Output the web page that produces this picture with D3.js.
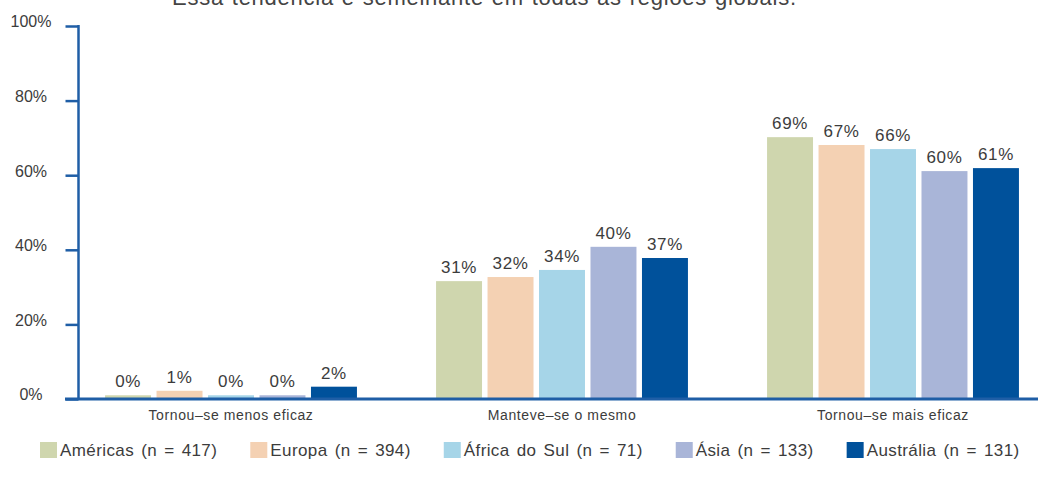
<!DOCTYPE html>
<html>
<head>
<meta charset="utf-8">
<script src="https://cdn.jsdelivr.net/npm/d3@7"></script>
<style>
  body { margin: 0; background: #fff; }
  svg { display: block; font-family: "Liberation Sans", Arial, sans-serif; }
</style>
</head>
<body>
<div id="chart"></div>
<script>
// data
var categories = ["Tornou–se menos eficaz", "Manteve–se o mesmo", "Tornou–se mais eficaz"];
var seriesNames = ["Américas (n = 417)", "Europa (n = 394)", "África do Sul (n = 71)", "Ásia (n = 133)", "Austrália (n = 131)"];
var americas = [1.0, 31.6, 70.2];
var europa = [2.2, 32.7, 68.1];
var africa = [1.0, 34.6, 67.0];
var asia = [1.0, 40.8, 61.1];
var australia = [3.3, 37.8, 61.9];
var americasLbl = ["0%", "31%", "69%"];
var europaLbl = ["1%", "32%", "67%"];
var africaLbl = ["0%", "34%", "66%"];
var asiaLbl = ["0%", "40%", "60%"];
var australiaLbl = ["2%", "37%", "61%"];
var yTicks = [0, 20, 40, 60, 80, 100];
var colors = ["#cfd6ae", "#f4d1b3", "#a6d5e8", "#a9b5d8", "#00519b"];

var title = "Essa tendência é semelhante em todas as regiões globais.";

var allValues = [americas, europa, africa, asia, australia];
var allLabels = [americasLbl, europaLbl, africaLbl, asiaLbl, australiaLbl];

var width = 1038, height = 488;
var axisColor = "#1f5ea6";
var textColor = "#3c3c3c";

var svg = d3.select("#chart").append("svg")
	.attr("width", width)
	.attr("height", height);

// title sits half cut off at the top, as in the source
svg.append("text")
	.attr("x", 172)
	.attr("y", 5)
	.attr("fill", "#444")
	.style("font-size", "22px")
	.style("letter-spacing", "0.75px")
	.style("word-spacing", "1px")
	.text(title);

var y = d3.scaleLinear().domain([0, 100]).range([399, 26]);

var x0 = d3.scaleBand()
	.domain(categories)
	.range([65.5, 1058.5])
	.paddingInner(0.239)
	.paddingOuter(0.1195);

var x1 = d3.scaleBand()
	.domain(d3.range(seriesNames.length))
	.range([0, x0.bandwidth()])
	.paddingInner(0.107);

// bars
var groups = svg.selectAll("g.grp")
	.data(categories)
	.enter().append("g")
	.attr("class", "grp")
	.attr("transform", function (d) { return "translate(" + x0(d) + ",0)"; });

groups.each(function (cat, ci) {
	var g = d3.select(this);
	var rows = seriesNames.map(function (s, si) {
		return { si: si, v: allValues[si][ci], lbl: allLabels[si][ci] };
	});
	g.selectAll("rect")
		.data(rows)
		.enter().append("rect")
		.attr("x", function (d) { return x1(d.si); })
		.attr("y", function (d) { return y(d.v); })
		.attr("width", x1.bandwidth())
		.attr("height", function (d) { return y(0) - y(d.v); })
		.attr("fill", function (d) { return colors[d.si]; });
	g.selectAll("text.val")
		.data(rows)
		.enter().append("text")
		.attr("class", "val")
		.attr("x", function (d) { return x1(d.si) + x1.bandwidth() / 2; })
		.attr("y", function (d) { return y(d.v) - 8; })
		.attr("text-anchor", "middle")
		.attr("fill", textColor)
		.style("font-size", "17px")
		.style("letter-spacing", "0.6px")
		.text(function (d) { return d.lbl; });
});

// y axis
var yAxis = svg.append("g")
	.attr("transform", "translate(78.5,0)")
	.call(d3.axisLeft(y).tickValues(yTicks).tickSize(13).tickFormat(function (d) { return d + "%"; }));
yAxis.select(".domain").remove();
yAxis.selectAll(".tick line").attr("stroke", axisColor).attr("stroke-width", 2.5);
yAxis.selectAll(".tick text")
	.attr("x", -47.5)
	.attr("dy", "0.05em")
	.attr("text-anchor", "middle")
	.attr("fill", textColor)
	.style("font-size", "16px")
	.style("font-family", "'Liberation Sans', Arial, sans-serif");
yAxis.append("line")
	.attr("x1", 0).attr("x2", 0)
	.attr("y1", y(100) - 1).attr("y2", y(0))
	.attr("stroke", axisColor)
	.attr("stroke-width", 2.5);

// x axis
svg.append("line")
	.attr("x1", 65).attr("x2", width)
	.attr("y1", y(0)).attr("y2", y(0))
	.attr("stroke", axisColor)
	.attr("stroke-width", 3);

svg.selectAll("text.cat")
	.data(categories)
	.enter().append("text")
	.attr("class", "cat")
	.attr("x", function (d) { return x0(d) + x0.bandwidth() / 2; })
	.attr("y", 420)
	.attr("text-anchor", "middle")
	.attr("fill", textColor)
	.style("font-size", "14px")
	.style("letter-spacing", "0.6px")
	.text(function (d) { return d; });

// legend
var lx = 40;
var legend = svg.append("g").attr("class", "legend");
seriesNames.forEach(function (s, i) {
	legend.append("rect")
		.attr("x", lx).attr("y", 442)
		.attr("width", 17).attr("height", 16)
		.attr("fill", colors[i]);
	var t = legend.append("text")
		.attr("x", lx + 20)
		.attr("y", 456)
		.attr("fill", textColor)
		.style("font-size", "17px")
		.style("letter-spacing", "0.4px")
		.style("word-spacing", "2px")
		.text(s);
	lx = lx + 20 + t.node().getComputedTextLength() + 33;
});
</script>
</body>
</html>
